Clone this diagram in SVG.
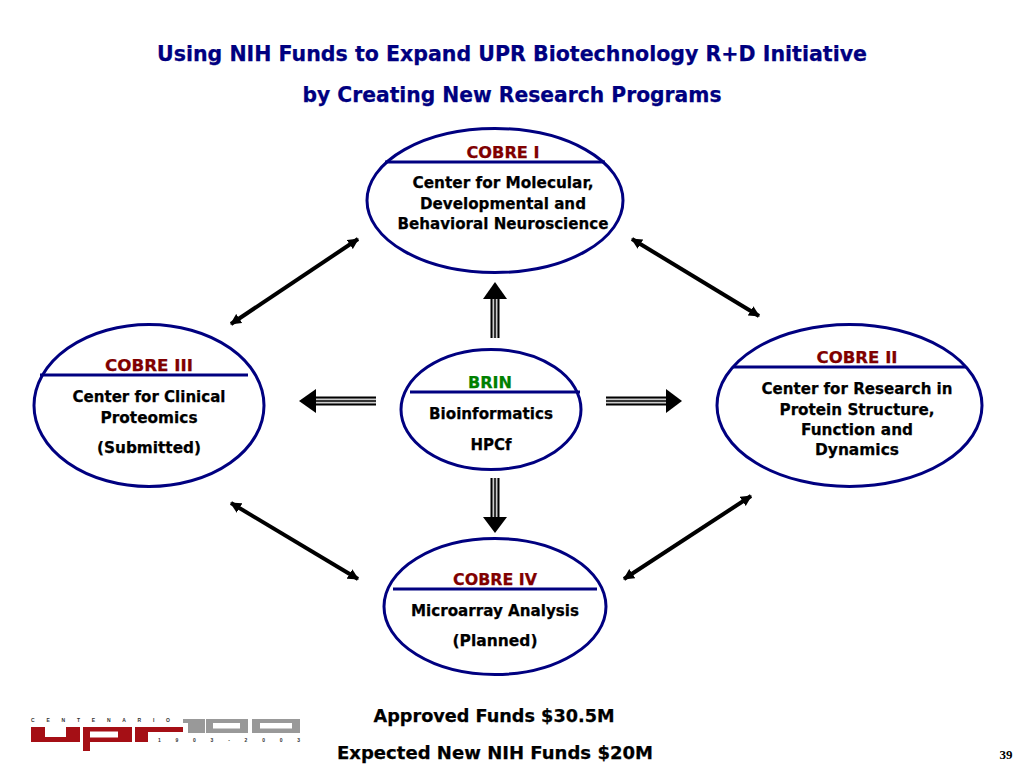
<svg xmlns="http://www.w3.org/2000/svg" width="1024" height="768" viewBox="0 0 1024 768">
<style>
text{font-family:"DejaVu Sans","Liberation Sans",sans-serif;font-weight:700;text-anchor:middle;stroke-width:.25}
.title{font-size:21px;fill:#000080;stroke:#000080}
.body{font-size:16px;fill:#000;stroke:#000}
.head{font-size:16px;fill:#800000;stroke:#800000}
.foot{font-size:18px;fill:#000;stroke:#000}
.oval{fill:#fff;stroke:#000080;stroke-width:3}
.rule{stroke:#000080;stroke-width:3}
.diag{stroke:#000;stroke-width:4;fill:none;marker-start:url(#ah);marker-end:url(#ah)}
.t1{stroke:#000;stroke-width:9;fill:none}
.t2{stroke:#ccc;stroke-width:5;fill:none}
.t3{stroke:#000;stroke-width:1.500;fill:none}
.logo{font-family:"Liberation Sans",sans-serif;font-size:5px;font-weight:700;fill:#333;stroke:none;text-anchor:start}
</style>
<defs>
<marker id="ah" viewBox="0 0 10 10" refX="9" refY="5" markerUnits="userSpaceOnUse" markerWidth="11" markerHeight="11" orient="auto-start-reverse"><path d="M0 0L10 5L0 10z" fill="#000"/></marker>
</defs>
<rect width="1024" height="768" fill="#fff"/>
<g id="title">
<text class="title" x="512" y="61" textLength="710" lengthAdjust="spacingAndGlyphs">Using NIH Funds to Expand UPR Biotechnology R+D Initiative</text>
<text class="title" x="512" y="102" textLength="419" lengthAdjust="spacingAndGlyphs">by Creating New Research Programs</text>
</g>
<g id="connectors">
<path class="diag" d="M231 324L358 239"/>
<path class="diag" d="M632 239L759 316"/>
<path class="diag" d="M231 503L358 579"/>
<path class="diag" d="M624 579L751 496"/>
<g id="arrow-up"><path class="t1" d="M495 338V298"/><path class="t2" d="M495 338V298"/><path class="t3" d="M495 338V298"/><path d="M483 299L495 282L507 299z"/></g>
<g id="arrow-down"><path class="t1" d="M495 478V518"/><path class="t2" d="M495 478V518"/><path class="t3" d="M495 478V518"/><path d="M483 517L495 533L507 517z"/></g>
<g id="arrow-left"><path class="t1" d="M376 401H315"/><path class="t2" d="M376 401H315"/><path class="t3" d="M376 401H315"/><path d="M316 389L299 401L316 413z"/></g>
<g id="arrow-right"><path class="t1" d="M606 401H667"/><path class="t2" d="M606 401H667"/><path class="t3" d="M606 401H667"/><path d="M666 389L682 401L666 413z"/></g>
</g>
<g id="cobre1">
<ellipse class="oval" cx="495" cy="200.500" rx="128" ry="72"/>
<path class="rule" d="M385 162H605"/>
<text class="head" x="503" y="158" textLength="73" lengthAdjust="spacingAndGlyphs">COBRE I</text>
<text class="body" x="503" y="188" textLength="181" lengthAdjust="spacingAndGlyphs">Center for Molecular,</text>
<text class="body" x="503" y="209" textLength="166" lengthAdjust="spacingAndGlyphs">Developmental and</text>
<text class="body" x="503" y="229" textLength="211" lengthAdjust="spacingAndGlyphs">Behavioral Neuroscience</text>
</g>
<g id="cobre3">
<ellipse class="oval" cx="149" cy="405.500" rx="115" ry="81"/>
<path class="rule" d="M40 375H248"/>
<text class="head" x="149" y="371" textLength="88" lengthAdjust="spacingAndGlyphs">COBRE III</text>
<text class="body" x="149" y="402" textLength="153" lengthAdjust="spacingAndGlyphs">Center for Clinical</text>
<text class="body" x="149" y="423" textLength="97" lengthAdjust="spacingAndGlyphs">Proteomics</text>
<text class="body" x="149" y="453" textLength="104" lengthAdjust="spacingAndGlyphs">(Submitted)</text>
</g>
<g id="brin">
<ellipse class="oval" cx="491" cy="409.500" rx="90" ry="60"/>
<path class="rule" d="M410 392H580"/>
<text x="490" y="388" font-size="16" fill="#008000" stroke="#008000" textLength="44" lengthAdjust="spacingAndGlyphs">BRIN</text>
<text class="body" x="491" y="419" textLength="124" lengthAdjust="spacingAndGlyphs">Bioinformatics</text>
<text class="body" x="491" y="450" textLength="41" lengthAdjust="spacingAndGlyphs">HPCf</text>
</g>
<g id="cobre2">
<ellipse class="oval" cx="849.500" cy="405.500" rx="132.500" ry="81"/>
<path class="rule" d="M733 367H966"/>
<text class="head" x="857" y="363" textLength="81" lengthAdjust="spacingAndGlyphs">COBRE II</text>
<text class="body" x="857" y="394" textLength="191" lengthAdjust="spacingAndGlyphs">Center for Research in</text>
<text class="body" x="857" y="415" textLength="155" lengthAdjust="spacingAndGlyphs">Protein Structure,</text>
<text class="body" x="857" y="435" textLength="112" lengthAdjust="spacingAndGlyphs">Function and</text>
<text class="body" x="857" y="455" textLength="84" lengthAdjust="spacingAndGlyphs">Dynamics</text>
</g>
<g id="cobre4">
<ellipse class="oval" cx="495" cy="606.500" rx="111" ry="68"/>
<path class="rule" d="M393 589H597"/>
<text class="head" x="495" y="585" textLength="84" lengthAdjust="spacingAndGlyphs">COBRE IV</text>
<text class="body" x="495" y="616" textLength="168" lengthAdjust="spacingAndGlyphs">Microarray Analysis</text>
<text class="body" x="495" y="646" textLength="85" lengthAdjust="spacingAndGlyphs">(Planned)</text>
</g>
<g id="footer">
<text class="foot" x="494" y="722" textLength="241" lengthAdjust="spacingAndGlyphs">Approved Funds $30.5M</text>
<text class="foot" x="495" y="759" textLength="316" lengthAdjust="spacingAndGlyphs">Expected New NIH Funds $20M</text>
<text x="1006" y="759" style="font-family:'Liberation Serif',serif;stroke:none" font-size="13" fill="#000">39</text>
</g>
<g id="logo">
<text class="logo" x="31" y="722" textLength="139">C E N T E N A R I O</text>
<path d="M31 727H45V737H66V727H80V742H31z" fill="#a50f15"/>
<path fill-rule="evenodd" d="M83 727H132V742H90V751H83zM90 731.500V737.500H118V731.500z" fill="#a50f15"/>
<path d="M135 742V727H183V732H148V742z" fill="#a50f15"/>
<path d="M183 719H205V733H188V723H183z" fill="#999"/>
<path fill-rule="evenodd" d="M206 719H248V733H206zM213 723V728.500H240V723z" fill="#999"/>
<path fill-rule="evenodd" d="M252 719H300V733H252zM260 723V728.500H292V723z" fill="#999"/>
<text class="logo" x="158" y="742" textLength="142">1 9 0 3 - 2 0 0 3</text>
</g>
</svg>
